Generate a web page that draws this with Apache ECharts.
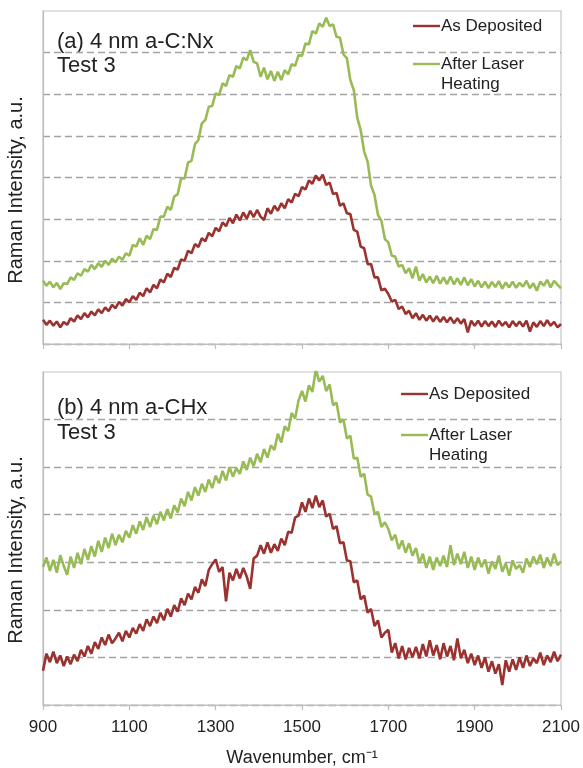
<!DOCTYPE html>
<html>
<head>
<meta charset="utf-8">
<script src="https://cdn.jsdelivr.net/npm/echarts@6/dist/echarts.min.js"></script>
<style>
  html, body { margin: 0; padding: 0; background: #fff; }
  #chart { width: 583px; height: 768px; }
</style>
</head>
<body>
<div id="chart"></div>
<script>
// wavenumber grid: 900 .. 2100 cm-1, one point every 8 cm-1 (151 points)
const waveStart = 900;
const waveStep = 8;

// (a) 4 nm a-C:Nx, Test 3 -- one row per 200 cm-1
const cnDeposited = [
  0.58,0.46,0.56,0.44,0.54,0.40,0.53,0.46,0.62,0.54,0.69,0.60,0.74,0.64,0.78,0.69,0.83,0.74,0.88,0.79,0.94,0.86,1.01,0.92,1.08,
  1.00,1.15,1.06,1.23,1.15,1.34,1.24,1.42,1.34,1.55,1.48,1.69,1.61,1.83,1.79,2.03,2.00,2.24,2.18,2.40,2.33,2.54,2.47,2.67,2.59,
  2.79,2.71,2.92,2.83,3.03,2.90,3.11,2.97,3.16,3.01,3.20,3.05,3.22,3.06,2.98,3.26,3.13,3.32,3.20,3.38,3.26,3.48,3.40,3.61,3.55,
  3.77,3.71,3.93,3.85,4.05,3.93,4.07,3.82,3.88,3.60,3.63,3.32,3.38,3.14,3.12,2.74,2.70,2.34,2.30,1.92,1.92,1.60,1.60,1.29,1.33,
  1.20,1.02,1.06,0.84,0.90,0.72,0.80,0.62,0.74,0.58,0.70,0.56,0.68,0.54,0.67,0.53,0.65,0.52,0.64,0.50,0.62,0.49,0.60,0.28,0.56,
  0.44,0.56,0.42,0.55,0.43,0.54,0.41,0.56,0.44,0.53,0.40,0.55,0.43,0.54,0.42,0.56,0.30,0.52,0.41,0.55,0.43,0.57,0.44,0.53,0.40,
  0.48
];
const cnHeated = [
  1.52,1.40,1.50,1.36,1.47,1.32,1.46,1.44,1.60,1.54,1.70,1.64,1.80,1.74,1.90,1.80,1.94,1.85,2.00,1.90,2.05,1.96,2.10,2.02,2.18,
  2.12,2.38,2.34,2.54,2.38,2.60,2.52,2.76,2.74,3.06,3.06,3.30,3.22,3.54,3.60,3.98,3.98,4.36,4.40,4.80,4.90,5.30,5.38,5.70,5.72,
  6.02,5.98,6.26,6.20,6.46,6.42,6.68,6.62,6.88,6.82,7.06,6.78,6.74,6.42,6.64,6.36,6.56,6.32,6.54,6.34,6.58,6.48,6.72,6.68,6.94,
  6.92,7.22,7.20,7.52,7.46,7.70,7.62,7.84,7.64,7.68,7.38,7.36,6.96,6.86,6.34,6.10,5.44,5.14,4.62,4.38,3.80,3.58,3.10,2.96,2.52,
  2.44,2.12,2.10,1.86,1.90,1.70,1.82,1.58,1.86,1.52,1.68,1.48,1.62,1.46,1.64,1.45,1.60,1.44,1.62,1.43,1.58,1.42,1.60,1.41,1.56,
  1.38,1.52,1.36,1.50,1.34,1.49,1.37,1.51,1.33,1.48,1.36,1.50,1.35,1.47,1.38,1.52,1.34,1.46,1.28,1.50,1.40,1.54,1.36,1.52,1.42,
  1.34
];

// (b) 4 nm a-CHx, Test 3
const chDeposited = [
  0.72,1.08,0.90,1.12,0.88,1.04,0.82,1.02,0.86,1.06,0.92,1.16,1.02,1.24,1.08,1.32,1.18,1.42,1.26,1.48,1.30,1.40,1.52,1.34,1.56,
  1.42,1.62,1.50,1.70,1.56,1.80,1.66,1.86,1.72,1.94,1.78,2.02,1.86,2.10,1.96,2.24,2.10,2.34,2.22,2.48,2.36,2.64,2.50,2.84,2.96,
  3.06,2.80,2.90,2.18,2.78,2.62,2.86,2.66,2.88,2.70,2.44,3.08,3.14,3.36,3.18,3.42,3.20,3.38,3.24,3.50,3.36,3.64,3.62,3.94,3.98,
  4.26,4.06,4.34,4.14,4.40,4.16,4.30,3.96,4.02,3.70,3.76,3.40,3.42,3.04,3.02,2.58,2.62,2.22,2.30,1.94,2.02,1.66,1.78,1.42,1.52,
  1.58,1.10,1.30,0.98,1.24,0.96,1.20,1.00,1.22,0.98,1.28,1.02,1.36,1.04,1.26,0.96,1.30,1.02,1.24,0.94,1.40,0.98,1.16,0.88,1.08,
  0.84,1.04,0.78,1.00,0.70,0.92,0.66,0.86,0.42,0.94,0.70,0.96,0.74,1.00,0.78,1.04,0.82,0.98,0.88,1.10,0.84,1.04,0.90,1.12,0.92,
  1.06
];
const chHeated = [
  2.90,3.10,2.82,3.05,2.78,3.15,2.92,2.74,3.12,2.88,3.20,2.96,3.28,3.05,3.34,3.12,3.45,3.22,3.52,3.30,3.60,3.36,3.58,3.42,3.66,
  3.52,3.78,3.60,3.86,3.68,3.95,3.74,3.98,3.80,4.06,3.88,4.12,3.92,4.20,4.05,4.34,4.18,4.48,4.30,4.58,4.40,4.65,4.48,4.74,4.56,
  4.82,4.66,4.92,4.72,5.00,4.80,4.98,4.86,5.12,4.94,5.20,5.02,5.28,5.10,5.38,5.20,5.46,5.36,5.70,5.52,5.86,5.76,6.14,6.02,6.40,
  6.60,6.38,6.72,6.58,7.05,6.80,6.92,6.60,6.74,6.30,6.36,5.94,6.00,5.60,5.66,5.18,5.20,4.80,4.86,4.42,4.38,4.02,4.06,3.74,3.84,
  3.70,3.46,3.58,3.28,3.46,3.20,3.40,3.14,3.30,2.98,3.18,2.88,3.12,2.84,3.10,2.92,3.14,2.90,3.36,2.94,3.18,2.96,3.22,2.88,3.12,
  2.84,3.10,2.90,3.06,2.76,3.02,2.86,3.14,2.80,2.98,2.72,3.04,2.86,2.94,2.78,3.08,2.90,3.12,2.96,3.16,2.88,3.10,2.92,3.18,2.94,
  3.02
];

const seriesNames = ["As Deposited", "After Laser\nHeating"];
const panelLabels = ["(a) 4 nm a-C:Nx\nTest 3", "(b) 4 nm a-CHx\nTest 3"];
const yMax = [8, 7];

const RED = "#9a3330";
const GREEN = "#98bb55";
const FONT = "Liberation Sans, Arial, sans-serif";

function toPoints(values) {
  return values.map((v, i) => [waveStart + i * waveStep, v]);
}

function makeX(gridIndex, showLabels) {
  return {
    type: "value",
    gridIndex: gridIndex,
    min: 900,
    max: 2100,
    interval: 200,
    axisLine: { lineStyle: { color: "#bdbdbd", width: 1.2 } },
    axisTick: { show: true, length: 5, lineStyle: { color: "#bdbdbd", width: 1.2 } },
    axisLabel: {
      show: showLabels,
      color: "#222",
      fontSize: 17,
      fontFamily: FONT,
      margin: 14,
      formatter: (v) => String(v),
    },
    splitLine: { show: false },
    name: showLabels ? "Wavenumber, cm\u207B\u00B9" : "",
    nameLocation: "middle",
    nameGap: 44,
    nameTextStyle: { color: "#222", fontSize: 18, fontFamily: FONT },
  };
}

function makeY(gridIndex) {
  return {
    type: "value",
    gridIndex: gridIndex,
    min: 0,
    max: yMax[gridIndex],
    interval: 1,
    axisLine: { show: true, lineStyle: { color: "#bdbdbd", width: 1.2 } },
    axisTick: { show: false },
    axisLabel: { show: false },
    splitLine: {
      show: true,
      showMaxLine: false,
      lineStyle: { color: "#a3a3a3", type: [7, 4], width: 1.4 },
    },
  };
}

function line(name, data, color, idx) {
  return {
    name: name,
    type: "line",
    xAxisIndex: idx,
    yAxisIndex: idx,
    data: toPoints(data),
    showSymbol: false,
    silent: true,
    lineStyle: { color: color, width: 2.6 },
    itemStyle: { color: color },
  };
}

// legend block drawn by hand so the marker sits on the first text line
function legendBlock(x, y1, y2) {
  return [
    { type: "line", shape: { x1: x, y1: y1, x2: x + 27, y2: y1 }, style: { stroke: RED, lineWidth: 2.4 } },
    { type: "text", x: x + 28, y: y1, style: { text: seriesNames[0], font: "17px " + FONT, fill: "#222", verticalAlign: "middle" } },
    { type: "line", shape: { x1: x, y1: y2, x2: x + 27, y2: y2 }, style: { stroke: GREEN, lineWidth: 2.4 } },
    { type: "text", x: x + 28, y: y2 - 10, style: { text: seriesNames[1], font: "17px " + FONT, fill: "#222", lineHeight: 20, verticalAlign: "top" } },
  ];
}

// rotated y-axis title, sits a little below the middle of each panel
function yTitle(cy) {
  return {
    type: "text",
    x: 16,
    y: cy,
    rotation: Math.PI / 2,
    style: { text: "Raman Intensity, a.u.", font: "20px " + FONT, fill: "#222", align: "center", verticalAlign: "middle" },
  };
}

const chart = echarts.init(document.getElementById("chart"), null, { renderer: "canvas" });

const option = {
  backgroundColor: "#fff",
  animation: false,
  grid: [
    { left: 43, right: 22, top: 11, height: 333, show: true, borderColor: "#c4c4c4", borderWidth: 1.2 },
    { left: 43, right: 22, top: 372, height: 333, show: true, borderColor: "#c4c4c4", borderWidth: 1.2 },
  ],
  xAxis: [makeX(0, false), makeX(1, true)],
  yAxis: [makeY(0), makeY(1)],
  series: [
    line(seriesNames[0], cnDeposited, RED, 0),
    line(seriesNames[1], cnHeated, GREEN, 0),
    line(seriesNames[0], chDeposited, RED, 1),
    line(seriesNames[1], chHeated, GREEN, 1),
  ],
  graphic: [
    { type: "text", x: 57, y: 30, style: { text: panelLabels[0], font: "22px " + FONT, fill: "#222", lineHeight: 24, verticalAlign: "top" } },
    { type: "text", x: 57, y: 395, style: { text: panelLabels[1], font: "22px " + FONT, fill: "#222", lineHeight: 25, verticalAlign: "top" } },
    yTitle(190),
    yTitle(550),
  ]
    .concat(legendBlock(413, 26, 64))
    .concat(legendBlock(401, 394, 435)),
};

chart.setOption(option);
</script>
</body>
</html>
